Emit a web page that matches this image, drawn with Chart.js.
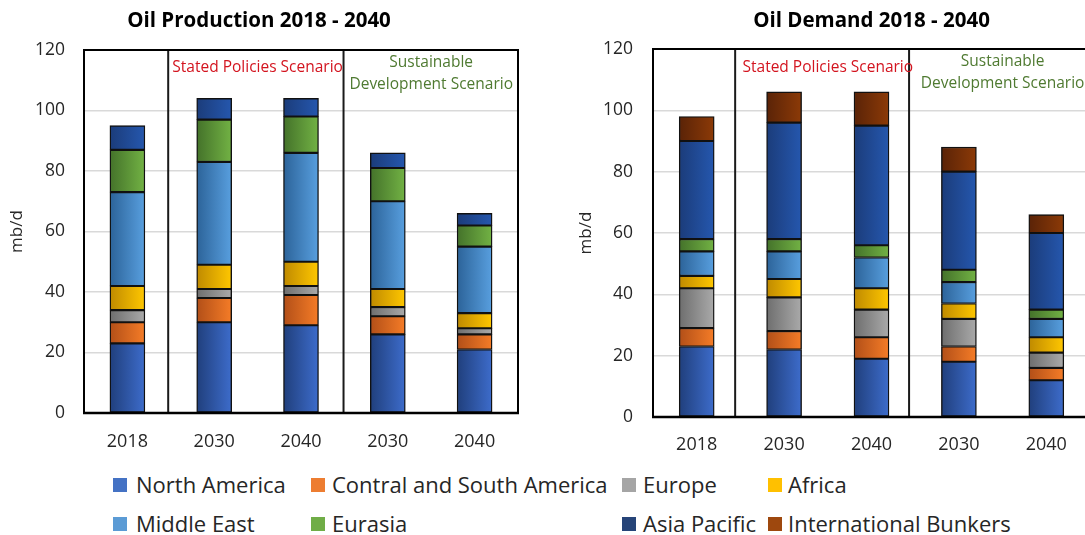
<!DOCTYPE html>
<html>
<head>
<meta charset="utf-8">
<title>Oil Production and Demand 2018 - 2040</title>
<script src="https://cdn.jsdelivr.net/npm/chart.js@4.4.1/dist/chart.umd.min.js"></script>
<style>
  html, body { margin: 0; padding: 0; width: 1085px; height: 535px; overflow: hidden; background: #fff; font-family: 'Open Sans', sans-serif; }
  canvas { position: absolute; top: 0; }
  #prod { left: 0; }
  #dem { left: 540px; }
  .sw { position: absolute; width: 14px; height: 14px; }
  .lt { position: absolute; font-size: 22px; line-height: 22px; color: #262626; white-space: nowrap; }
</style>
</head>
<body>
<canvas id="prod" width="524" height="460"></canvas>
<canvas id="dem" width="670" height="464"></canvas>
<div id="legend"></div>
<script>
// Categories: base year, then Stated Policies (2030, 2040), then Sustainable Development (2030, 2040)
const years = ['2018', '2030', '2040', '2030', '2040'];
const yTickValues = [0, 20, 40, 60, 80, 100, 120];

// Oil production by region, mb/d
const prodNorthAmerica = [23, 30, 29, 26, 21];
const prodCentralSouthAmerica = [7, 8, 10, 6, 5];
const prodEurope = [4, 3, 3, 3, 2];
const prodAfrica = [8, 8, 8, 6, 5];
const prodMiddleEast = [31, 34, 36, 29, 22];
const prodEurasia = [14, 14, 12, 11, 7];
const prodAsiaPacific = [8, 7, 6, 5, 4];

// Oil demand by region, mb/d
const demNorthAmerica = [23, 22, 19, 18, 12];
const demCentralSouthAmerica = [6, 6, 7, 5, 4];
const demEurope = [13, 11, 9, 9, 5];
const demAfrica = [4, 6, 7, 5, 5];
const demMiddleEast = [8, 9, 10, 7, 6];
const demEurasia = [4, 4, 4, 4, 3];
const demAsiaPacific = [32, 38, 39, 32, 25];
const demBunkers = [8, 10, 11, 8, 6];

const seriesNames = ['North America', 'Contral and South America', 'Europe', 'Africa',
                     'Middle East', 'Eurasia', 'Asia Pacific', 'International Bunkers'];

// Styling
const FONT = "'Open Sans', sans-serif";
const TXT = '#262626';
const legendColors = ['#4472C4', '#ED7D31', '#A5A5A5', '#FFC000', '#5B9BD5', '#70AD47', '#264478', '#9E480E'];
const barShades = [
  ['#203f7c', '#3d6ccb'],
  ['#b24f18', '#f57c27'],
  ['#6e6e6e', '#aaaaaa'],
  ['#bf8a00', '#ffc700'],
  ['#2c6399', '#589fdf'],
  ['#44722a', '#72b244'],
  ['#1b3c7a', '#2557ae'],
  ['#5a2307', '#8c3a07']
];
const BAR = 35;

function shadedFill(idx) {
  return (c) => {
    const chart = c.chart;
    const x = chart.scales && chart.scales.x;
    if (!x || !chart.chartArea || c.type !== 'data') return legendColors[idx];
    const cx = x.getPixelForValue(c.dataIndex);
    const g = chart.ctx.createLinearGradient(cx - BAR / 2, 0, cx + BAR / 2, 0);
    g.addColorStop(0, barShades[idx][0]);
    g.addColorStop(1, barShades[idx][1]);
    return g;
  };
}

function makeDataset(idx, values) {
  return {
    label: seriesNames[idx],
    data: values,
    backgroundColor: shadedFill(idx),
    borderColor: '#111',
    borderWidth: 1.4,
    borderSkipped: false,
    barThickness: BAR
  };
}

// Plot frame, scenario dividers and scenario captions
const scenarioFrame = {
  id: 'scenarioFrame',
  afterDatasetsDraw(chart, args, opts) {
    const { ctx, chartArea: a, scales: { x } } = chart;
    ctx.save();
    ctx.strokeStyle = '#1a1a1a';
    ctx.lineWidth = 2;
    opts.dividers.forEach(v => {
      const px = x.getPixelForValue(v);
      ctx.beginPath();
      ctx.moveTo(px, a.top);
      ctx.lineTo(px, a.bottom);
      ctx.stroke();
    });
    ctx.strokeStyle = '#000';
    ctx.lineWidth = 2;
    ctx.beginPath();
    ctx.moveTo(a.left, a.bottom);
    ctx.lineTo(a.left, a.top);
    ctx.lineTo(a.right, a.top);
    ctx.lineTo(a.right, a.bottom);
    ctx.stroke();
    ctx.lineWidth = 2.5;
    ctx.beginPath();
    ctx.moveTo(a.left - 1, a.bottom);
    ctx.lineTo(a.right + 1, a.bottom);
    ctx.stroke();

    ctx.font = '15.5px ' + FONT;
    ctx.textAlign = 'center';
    ctx.textBaseline = 'middle';
    ctx.fillStyle = '#d3141f';
    ctx.fillText('Stated Policies Scenario', x.getPixelForValue(1.5), opts.spsY);
    ctx.fillStyle = '#4f7a31';
    ['Sustainable', 'Development Scenario'].forEach((line, i) => {
      ctx.fillText(line, x.getPixelForValue(3.5), opts.sdsY + i * 22);
    });
    ctx.restore();
  }
};

function makeChart(id, title, datasets, L) {
  return new Chart(document.getElementById(id), {
    type: 'bar',
    data: { labels: years, datasets },
    options: {
      responsive: false,
      animation: false,
      events: [],
      layout: { padding: { left: 0, right: L.padRight, top: 0, bottom: 0 } },
      plugins: {
        legend: { display: false },
        tooltip: { enabled: false },
        title: {
          display: true, text: title, color: '#000', fullSize: L.titleFull,
          font: { family: FONT, size: 20.5, weight: 'bold', lineHeight: 1.2 },
          padding: { top: 9.2, bottom: L.titleBottom }
        },
        scenarioFrame: { dividers: L.dividers, spsY: L.spsY, sdsY: L.sdsY }
      },
      scales: {
        x: {
          stacked: true,
          grid: { display: false },
          border: { display: false },
          ticks: { color: TXT, font: { family: FONT, size: 18 }, padding: L.xPad, maxRotation: 0 },
          afterFit: s => { s.height = L.xHeight; }
        },
        y: {
          stacked: true, min: 0, max: 120,
          afterBuildTicks: s => { s.ticks = yTickValues.map(v => ({ value: v })); },
          grid: {
            color: c => (c.tick && (c.tick.value === 0 || c.tick.value === 120)) ? 'rgba(0,0,0,0)' : '#d9d9d9',
            lineWidth: 1.6, drawTicks: false
          },
          border: { display: false },
          ticks: { color: TXT, font: { family: FONT, size: 17.5 }, padding: L.yPad },
          title: {
            display: true, text: 'mb/d', color: TXT,
            font: { family: FONT, size: 17, lineHeight: 1.2 },
            padding: { top: L.yTitlePad, bottom: 0 }
          },
          afterFit: s => { s.width = L.yWidth; }
        }
      }
    },
    plugins: [scenarioFrame]
  });
}

makeChart('prod', 'Oil Production 2018 - 2040', [
  makeDataset(0, prodNorthAmerica),
  makeDataset(1, prodCentralSouthAmerica),
  makeDataset(2, prodEurope),
  makeDataset(3, prodAfrica),
  makeDataset(4, prodMiddleEast),
  makeDataset(5, prodEurasia),
  makeDataset(6, prodAsiaPacific)
], { padRight: 6, titleFull: true, titleBottom: 16.2, xHeight: 47, xPad: 10, yWidth: 84, yPad: 19, yTitlePad: 7,
     dividers: [0.47, 2.49], spsY: 68, sdsY: 63 });

makeChart('dem', 'Oil Demand 2018 - 2040', [
  makeDataset(0, demNorthAmerica),
  makeDataset(1, demCentralSouthAmerica),
  makeDataset(2, demEurope),
  makeDataset(3, demAfrica),
  makeDataset(4, demMiddleEast),
  makeDataset(5, demEurasia),
  makeDataset(6, demAsiaPacific),
  makeDataset(7, demBunkers)
], { padRight: 120, titleFull: false, titleBottom: 15.2, xHeight: 47, xPad: 9, yWidth: 113, yPad: 20, yTitlePad: 36,
     dividers: [0.44, 2.43], spsY: 68, sdsY: 62 });

// Shared legend below both panels
const legendSlots = [
  [113, 136, 485], [311, 332, 485], [622, 643, 485], [768, 788, 485],
  [113, 136, 524], [311, 332, 524], [622, 643, 524], [768, 788, 524]
];
const legendOrder = [0, 1, 2, 3, 4, 5, 6, 7];
const legendEl = document.getElementById('legend');
legendOrder.forEach((idx, k) => {
  const [sx, tx, cy] = legendSlots[k];
  const sw = document.createElement('div');
  sw.className = 'sw';
  sw.style.left = sx + 'px';
  sw.style.top = (cy - 7) + 'px';
  sw.style.background = legendColors[idx];
  const t = document.createElement('div');
  t.className = 'lt';
  t.style.left = tx + 'px';
  t.style.top = (cy - 11.7) + 'px';
  t.textContent = seriesNames[idx];
  legendEl.appendChild(sw);
  legendEl.appendChild(t);
});
</script>
</body>
</html>
